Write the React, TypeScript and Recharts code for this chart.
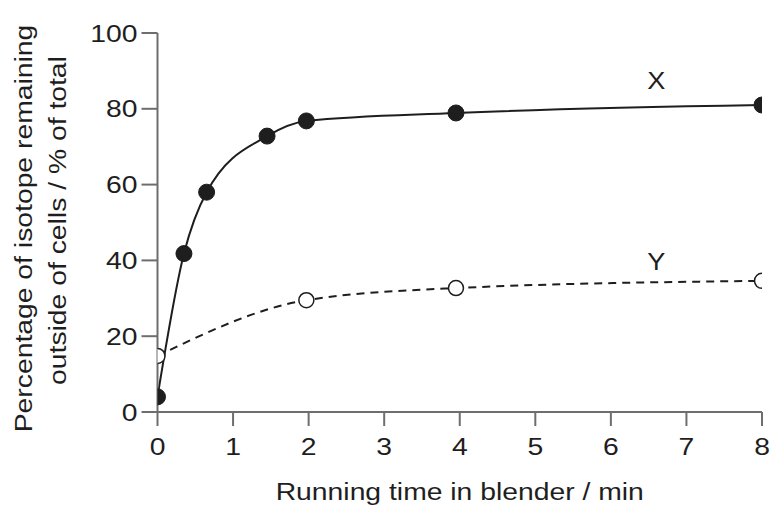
import React from 'react';
import { LineChart, Line, XAxis, YAxis, ReferenceDot } from 'recharts';

const seriesXTimes = [0, 0.35, 0.65, 1.45, 1.97, 3.95, 8];
const seriesXValues = [4, 41.8, 58, 72.8, 76.8, 78.9, 81];
const seriesYTimes = [0, 1.97, 3.95, 8];
const seriesYValues = [14.8, 29.5, 32.7, 34.6];
const xTicks = [0, 1, 2, 3, 4, 5, 6, 7, 8];
const yTicks = [0, 20, 40, 60, 80, 100];
const xTitle = 'Running time in blender / min';
const yTitleLines = ['Percentage of isotope remaining', 'outside of cells / % of total'];
const seriesLabels = [
  { name: 'X', t: 6.6, v: 87.5 },
  { name: 'Y', t: 6.6, v: 39.5 },
];

const dataX = seriesXTimes.map((t, i) => ({ t, v: seriesXValues[i] }));
const dataY = seriesYTimes.map((t, i) => ({ t, v: seriesYValues[i] }));

const FONT = '"Liberation Sans", Arial, sans-serif';
const AXIS = '#6e6e6e';
const INK = '#1e1e1e';
const STRETCH = 1.18;

const YTitle = (props: any) => {
  const vb = props.viewBox || {};
  const cy = vb.y + vb.height / 2;
  return (
    <g fontFamily={FONT} fontSize={24} fill={INK}>
      <text transform={`translate(32, ${cy + 6}) rotate(-90) scale(${STRETCH}, 1)`} textAnchor="middle">
        {yTitleLines[0]}
      </text>
      <text transform={`translate(66, ${cy - 2}) rotate(-90) scale(${STRETCH}, 1)`} textAnchor="middle">
        {yTitleLines[1]}
      </text>
    </g>
  );
};

const XTitle = (props: any) => {
  const vb = props.viewBox || {};
  const cx = vb.x + vb.width / 2;
  return (
    <text transform={`translate(${cx}, 500) scale(${STRETCH}, 1)`} textAnchor="middle" fontSize={24} fill={INK} fontFamily={FONT}>
      {xTitle}
    </text>
  );
};

const XTick = (props: any) => {
  const { x, y, payload } = props;
  return (
    <text transform={`translate(${x}, ${y}) scale(${STRETCH}, 1)`} textAnchor="middle" dy="0.71em" fontSize={24} fill={INK} fontFamily={FONT}>
      {payload.value}
    </text>
  );
};

const YTick = (props: any) => {
  const { x, y, payload } = props;
  return (
    <text transform={`translate(${x}, ${y}) scale(${STRETCH}, 1)`} textAnchor="end" dy="0.355em" fontSize={24} fill={INK} fontFamily={FONT}>
      {payload.value}
    </text>
  );
};

const SeriesName = (props: any) => {
  const vb = props.viewBox || {};
  const cx = vb.cx != null ? vb.cx : vb.x + (vb.width || 0) / 2;
  const cy = vb.cy != null ? vb.cy : vb.y + (vb.height || 0) / 2;
  return (
    <text transform={`translate(${cx}, ${cy}) scale(${STRETCH}, 1)`} textAnchor="middle" dy="0.355em" fontSize={23} fill={INK} fontFamily={FONT}>
      {props.value}
    </text>
  );
};

const FilledDot = (props: any) => {
  const { cx, cy } = props;
  if (cx == null || cy == null) return null;
  return <circle cx={cx} cy={cy} r={8} fill={INK} stroke={INK} strokeWidth={1} />;
};

const OpenDot = (props: any) => {
  const { cx, cy } = props;
  if (cx == null || cy == null) return null;
  return <circle cx={cx} cy={cy} r={7.5} fill="#fff" stroke={INK} strokeWidth={1.5} />;
};

export default function App() {
  return (
    <div style={{ position: 'absolute', left: 0, top: 0, width: 773, height: 511, background: '#fff' }}>
      <LineChart width={773} height={511} margin={{ top: 33, right: 11, left: 0, bottom: 0 }}>
        <XAxis
          type="number"
          dataKey="t"
          domain={[0, 8]}
          ticks={xTicks}
          interval={0}
          height={99}
          allowDataOverflow
          stroke={AXIS}
          strokeWidth={2}
          tickSize={14}
          tickMargin={12}
          tick={<XTick />}
          tickLine={{ stroke: AXIS, strokeWidth: 2 }}
          label={<XTitle />}
        />
        <YAxis
          type="number"
          dataKey="v"
          domain={[0, 100]}
          ticks={yTicks}
          interval={0}
          width={157.5}
          stroke={AXIS}
          strokeWidth={2}
          tickSize={16}
          tickMargin={4}
          tick={<YTick />}
          tickLine={{ stroke: AXIS, strokeWidth: 2 }}
          label={<YTitle />}
        />
        <Line
          data={dataY}
          dataKey="v"
          type="monotone"
          stroke={INK}
          strokeWidth={2}
          strokeDasharray="8 6"
          dot={<OpenDot />}
          activeDot={false}
          isAnimationActive={false}
        />
        <Line
          data={dataX}
          dataKey="v"
          type="monotone"
          stroke={INK}
          strokeWidth={2}
          dot={<FilledDot />}
          activeDot={false}
          isAnimationActive={false}
        />
        {seriesLabels.map((s) => (
          <ReferenceDot
            key={s.name}
            x={s.t}
            y={s.v}
            r={0}
            fill="none"
            stroke="none"
            label={<SeriesName value={s.name} />}
          />
        ))}
      </LineChart>
    </div>
  );
}
